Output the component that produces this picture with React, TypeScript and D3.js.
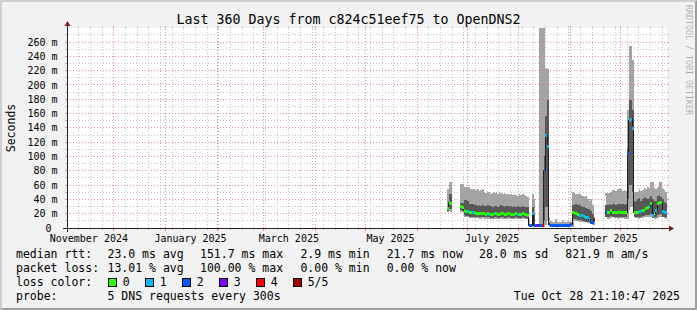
import React from 'react';
import * as d3 from 'd3';

const WIDTH = 697;
const HEIGHT = 310;
const FONT = "'DejaVu Sans Mono', 'Liberation Mono', monospace";

// time span of the graph
const END_TIME = new Date(Date.UTC(2025, 9, 28, 21, 10, 47));
const SPAN_DAYS = 360;
const START_TIME = new Date(END_TIME.getTime() - SPAN_DAYS * 864e5);

const TITLE = 'Last 360 Days from c824c51eef75 to OpenDNS2';
const UNIT_LABEL = 'Seconds';
const WATERMARK = 'RRDTOOL / TOBI OETIKER';

// y axis (milliseconds, labelled with the "m" prefix)
const Y_MAX_MS = 279.6;
const yLabelTicks = [0, 20, 40, 60, 80, 100, 120, 140, 160, 180, 200, 220, 240, 260];
const yMinorTicks = [10, 30, 50, 70, 90, 110, 130, 150, 170, 190, 210, 230, 250, 270];

// one sample per day, starting at day FIRST_DAY after the graph start
const FIRST_DAY = 228;
const N = null;
// top of light smoke (slowest ping)
const smokeMax = [
  55, 65, 65,
  N, N, N, N, N,
  61, 61, 58, 58, 58, 57, 54, 55, 54, 53, 54, 52, 53, 54, 50, 49, 51, 50, 48, 49, 50, 49, 48, 50, 49, 48, 49, 48, 47, 46, 47, 46, 47, 46, 45, 47, 46, 47, 46, 45, 44,
  5, 5, 48, 40, 6, 6, 400, 400, 400, 400, 224, 222, 14, 10, 9, 8, 12, 9, 8, 9, 11, 8, 9, 10, 8, 9,
  50, 49, 48, 47, 49, 46, 45, 44, 45, 41, 38, 40, 32, 16,
  N, N, N, N, N, N,
  49, 49, 49, 50, 53, 53, 52, 55, 55, 54, 52, 53, 52, 165, 254, 254, 235, 49, 50, 51, 54, 52, 53, 56, 55, 58, 56, 65, 64, 56, 55, 57, 65, 64, 54, 53, 50,
];
// top of dark smoke
const smokeHi = [
  30, 47, 47,
  N, N, N, N, N,
  35, 35, 39, 39, 38, 33, 33, 33, 32, 32, 31, 32, 31, 32, 31, 31, 32, 31, 31, 30, 31, 31, 30, 31, 32, 31, 30, 31, 31, 30, 31, 30, 31, 30, 31, 30, 30, 31, 30, 30, 29,
  4, 4, 30, 20, 5, 5, 6, 6, 6, 100, 156, 179, 8, 6, 5, 5, 6, 5, 5, 6, 6, 5, 5, 6, 6, 7,
  32, 32, 33, 32, 33, 31, 30, 29, 28, 27, 26, 24, 20, 14,
  N, N, N, N, N, N,
  32, 32, 33, 32, 33, 33, 32, 33, 34, 33, 33, 32, 33, 110, 179, 179, 165, 36, 38, 40, 42, 38, 40, 44, 42, 40, 42, 45, 40, 38, 38, 45, 46, 44, 40, 37, 35,
];
// median rtt
const medianMs = [
  27, 35, 34,
  N, N, N, N, N,
  30, 28, 24, 23, 23, 22, 22, 21, 21, 20, 20, 20, 20, 20, 20, 19, 20, 19, 19, 19, 20, 20, 19, 19, 20, 20, 19, 19, 20, 20, 19, 19, 19, 20, 19, 19, 19, 20, 19, 19, 18,
  3, 3, 20, 4, 4, 4, 3, 3, 3, 81, 130, 114, 5, 4, 3, 3, 4, 3, 3, 4, 4, 3, 3, 4, 4, 5,
  21, 21, 20, 19, 18, 18, 17, 16, 15, 14, 12, 8, 7, 12,
  N, N, N, N, N, N,
  21, 21, 22, 25, 22, 21, 21, 22, 23, 22, 21, 21, 21, 104, 150, 152, 139, 22, 22, 21, 23, 23, 24, 25, 27, 28, 30, 34, 18, 20, 24, 34, 35, 36, 23, 21, 22,
];
// bottom of dark smoke
const smokeLo = [
  24, 27, 26,
  N, N, N, N, N,
  25, 24, 18, 17, 17, 16, 16, 16, 16, 15, 15, 15, 15, 15, 15, 15, 15, 15, 14, 14, 15, 15, 14, 14, 15, 15, 14, 14, 15, 15, 14, 14, 14, 15, 14, 14, 14, 15, 14, 14, 13,
  2, 2, 8, 3, 3, 3, 2, 2, 2, 10, 30, 30, 3, 3, 2, 2, 3, 2, 2, 3, 3, 2, 2, 3, 3, 3,
  12, 12, 12, 11, 11, 11, 10, 10, 9, 9, 8, 6, 5, 8,
  N, N, N, N, N, N,
  15, 15, 16, 17, 16, 16, 15, 16, 16, 16, 15, 15, 15, 40, 60, 60, 50, 16, 16, 15, 16, 16, 17, 17, 18, 18, 18, 20, 14, 15, 16, 18, 19, 20, 16, 15, 15,
];
// bottom of light smoke (fastest ping)
const smokeMin = [
  22, 24, 23,
  N, N, N, N, N,
  23, 22, 16, 15, 15, 14, 14, 14, 14, 14, 14, 13, 13, 14, 13, 13, 13, 13, 13, 13, 13, 13, 13, 13, 13, 13, 13, 13, 13, 13, 13, 13, 13, 13, 13, 13, 13, 12, 13, 13, 12, 12,
  1, 1, 4, 2, 2, 2, 1, 1, 1, 4, 10, 10, 2, 2, 1, 1, 2, 1, 1, 2, 2, 1, 1, 2, 2, 2,
  10, 10, 10, 9, 9, 9, 8, 8, 7, 7, 6, 4, 3, 5,
  N, N, N, N, N, N,
  13, 13, 14, 15, 14, 14, 13, 14, 14, 14, 13, 13, 13, 25, 30, 30, 25, 14, 14, 13, 14, 14, 15, 15, 15, 15, 15, 16, 12, 13, 14, 15, 16, 16, 14, 13, 13,
];
// lost pings out of 5
const lostPings = [
  0, 0, 0,
  N, N, N, N, N,
  0, 0, 0, 0, 1, 0, 0, 1, 0, 0, 0, 0, 0, 0, 0, 0, 0, 1, 0, 0, 1, 0, 0, 0, 0, 0, 0, 0, 0, 0, 0, 0, 0, 0, 1, 0, 0, 0, 0, 0, 0,
  2, 2, 1, 2, 2, 3, 2, 2, 4, 2, 1, 1, 2, 2, 2, 2, 2, 2, 2, 2, 2, 2, 2, 2, 2, 2,
  0, 0, 0, 0, 1, 1, 1, 0, 1, 1, 1, 2, 2, 4,
  N, N, N, N, N, N,
  2, 0, 0, 0, 0, 0, 0, 0, 0, 0, 0, 0, 0, 2, 1, 1, 1, 0, 0, 0, 1, 1, 0, 0, 0, 0, 1, 0, 1, 0, 1, 0, 0, 0, 1, 1, 1,
];

const lossColors = ['#26ff00', '#00b8ff', '#0059ff', '#7e00ff', '#ff0000', '#a10000'];
const lossLabels = ['0', '1', '2', '3', '4', '5/5'];

const medianRttStats = ['23.0 ms avg', '151.7 ms max', '2.9 ms min', '21.7 ms now', '28.0 ms sd', '821.9 m am/s'];
const packetLossStats = ['13.01 % avg', '100.00 % max', '0.00 % min', '0.00 % now'];
const probeText = '5 DNS requests every 300s';
const timestampText = 'Tue Oct 28 21:10:47 2025';

// layout
const X0 = 67, X1 = 667, Y0 = 228, Y1 = 28;
const statCols = [107.5, 200, 300.4, 386.7, 479, 565.3];
const LEG_X = 16;
const rowY = [258, 272, 286, 300];

type Sample = { day: number; max: number; hi: number; med: number; lo: number; min: number; loss: number };

export default function App() {
  const x = d3.scaleUtc().domain([START_TIME, END_TIME]).range([X0, X1]);
  const y = d3.scaleLinear().domain([0, Y_MAX_MS]).range([Y0, Y1]);
  const dayX = (d: number) => x(new Date(START_TIME.getTime() + d * 864e5));

  const samples: (Sample | null)[] = medianMs.map((m, i) =>
    m == null
      ? null
      : {
          day: FIRST_DAY + i,
          max: smokeMax[i] as number,
          hi: smokeHi[i] as number,
          med: m as number,
          lo: smokeLo[i] as number,
          min: smokeMin[i] as number,
          loss: lostPings[i] as number,
        }
  );
  const runs: Sample[][] = [];
  let cur: Sample[] | null = null;
  for (const s of samples) {
    if (!s) { cur = null; continue; }
    if (!cur) { cur = []; runs.push(cur); }
    cur.push(s);
  }
  const runsExt = runs.map((r) => [...r, { ...r[r.length - 1], day: r[r.length - 1].day + 1 }]);

  const lightArea = d3.area<Sample>().x((d) => dayX(d.day)).y0((d) => y(d.min)).y1((d) => y(d.max)).curve(d3.curveStepAfter);
  const darkArea = d3.area<Sample>().x((d) => dayX(d.day)).y0((d) => y(d.lo)).y1((d) => y(d.hi)).curve(d3.curveStepAfter);
  const medLine = d3.line<Sample>().x((d) => dayX(d.day)).y((d) => y(d.med)).curve(d3.curveStepAfter);

  const px = (v: number) => Math.floor(v) + 0.5;

  const weekLines = d3.utcSunday.range(START_TIME, END_TIME).map((t) => px(x(t)));
  const monthLines = d3.utcMonth.range(START_TIME, END_TIME).map((t) => px(x(t)));
  const labelMonths = d3.utcMonth
    .every(2)!
    .range(d3.utcMonth.every(2)!.floor(START_TIME), END_TIME)
    .map((t) => ({ t, lab: new Date(t.getTime() + 15 * 864e5) }))
    .filter((o) => o.lab >= START_TIME && o.lab <= END_TIME);
  const fmt = d3.utcFormat('%B %Y');

  const minorColor = '#c4c4c4';
  const majorColor = '#e88e8e';
  const dash = '1 2';

  return (
    <svg width={WIDTH} height={HEIGHT} style={{ position: 'absolute', left: 0, top: 0 }} fontFamily={FONT}>
      <defs>
        <clipPath id="plotClip">
          <rect x={X0} y={Y1} width={X1 - X0} height={Y0 - Y1} />
        </clipPath>
      </defs>
      <rect x={0} y={0} width={WIDTH} height={HEIGHT} fill="#f2f2f2" />
      <polygon points={`0,0 ${WIDTH},0 ${WIDTH - 2},2 2,2`} fill="#cfcfcf" />
      <polygon points={`0,0 2,2 2,${HEIGHT - 2} 0,${HEIGHT}`} fill="#cfcfcf" />
      <polygon points={`0,${HEIGHT} 2,${HEIGHT - 2} ${WIDTH - 2},${HEIGHT - 2} ${WIDTH},${HEIGHT}`} fill="#9e9e9e" />
      <polygon points={`${WIDTH},0 ${WIDTH},${HEIGHT} ${WIDTH - 2},${HEIGHT - 2} ${WIDTH - 2},2`} fill="#9e9e9e" />
      <rect x={X0} y={Y1} width={X1 - X0} height={Y0 - Y1} fill="#ffffff" />

      {/* grid */}
      <g shapeRendering="crispEdges">
        {yMinorTicks.filter((v) => v <= Y_MAX_MS).map((v) => {
          const yy = px(y(v));
          return (
            <g key={'hm' + v}>
              <line x1={X0} x2={X1} y1={yy} y2={yy} stroke={minorColor} strokeDasharray={dash} />
              <line x1={X0 - 2} x2={X0} y1={yy} y2={yy} stroke={minorColor} />
              <line x1={X1} x2={X1 + 2} y1={yy} y2={yy} stroke={minorColor} />
            </g>
          );
        })}
        {weekLines.map((xx, i) => (
          <g key={'vm' + i}>
            <line x1={xx} x2={xx} y1={Y0} y2={Y1} stroke={minorColor} strokeDasharray={dash} />
            <line x1={xx} x2={xx} y1={Y1 - 2} y2={Y1} stroke={minorColor} />
            <line x1={xx} x2={xx} y1={Y0} y2={Y0 + 2} stroke={minorColor} />
          </g>
        ))}
        {yLabelTicks.filter((v) => v > 0).map((v) => {
          const yy = px(y(v));
          return (
            <g key={'hM' + v}>
              <line x1={X0} x2={X1} y1={yy} y2={yy} stroke={majorColor} strokeDasharray={dash} />
              <line x1={X0 - 2} x2={X0} y1={yy} y2={yy} stroke={majorColor} />
              <line x1={X1} x2={X1 + 2} y1={yy} y2={yy} stroke={majorColor} />
            </g>
          );
        })}
        {monthLines.map((xx, i) => (
          <g key={'vM' + i}>
            <line x1={xx} x2={xx} y1={Y0} y2={Y1} stroke={majorColor} strokeDasharray={dash} />
            <line x1={xx} x2={xx} y1={Y1 - 2} y2={Y1} stroke={majorColor} />
            <line x1={xx} x2={xx} y1={Y0} y2={Y0 + 3} stroke={majorColor} />
          </g>
        ))}
      </g>

      <g clipPath="url(#plotClip)" shapeRendering="crispEdges">
        {runsExt.map((r, i) => (
          <path key={'l' + i} d={lightArea(r) || ''} fill="#a4a4a4" />
        ))}
        {runsExt.map((r, i) => (
          <path key={'d' + i} d={darkArea(r) || ''} fill="#585858" />
        ))}
        {runsExt.map((r, i) => (
          <path key={'m' + i} d={medLine(r) || ''} fill="none" stroke="#202020" strokeWidth={1} />
        ))}
        {runs.flat().map((s, i) => {
          const x0 = dayX(s.day);
          const x1 = dayX(s.day + 1);
          const cy = y(s.med);
          return <rect key={'c' + i} x={x0} width={x1 - x0} y={cy - 1.5} height={3} fill={lossColors[s.loss]} />;
        })}
      </g>

      {/* axes */}
      <g shapeRendering="crispEdges">
        <line x1={X0 - 4} x2={X1 + 4} y1={Y0 + 0.5} y2={Y0 + 0.5} stroke="#1f1f1f" />
        <line x1={X0 + 0.5} x2={X0 + 0.5} y1={Y0 + 4} y2={Y1 - 4} stroke="#1f1f1f" />
      </g>
      <polygon points={`${X1 + 2},${Y0 - 2.5} ${X1 + 2},${Y0 + 3.5} ${X1 + 7},${Y0 + 0.5}`} fill="#801f1f" />
      <polygon points={`${X0 - 2.5},${Y1 - 2} ${X0 + 3.5},${Y1 - 2} ${X0 + 0.5},${Y1 - 7}`} fill="#801f1f" />

      {/* y labels */}
      <g fontSize={10} fill="#000">
        {yLabelTicks.map((v) => (
          <text key={'yl' + v} x={v === 0 ? 51.5 : 57.5} y={y(v) + 3.6} textAnchor="end">
            {v === 0 ? '0' : `${v} m`}
          </text>
        ))}
      </g>
      {/* x labels */}
      <g fontSize={10} fill="#000">
        {labelMonths.map((o, i) => (
          <text key={'xl' + i} x={x(o.lab)} y={241.5} textAnchor="middle">
            {fmt(o.t)}
          </text>
        ))}
      </g>

      {/* title and unit */}
      <text x={WIDTH / 2} y={24} textAnchor="middle" fontSize={13.3} fill="#000">{TITLE}</text>
      <text transform={`translate(14.5,${(Y0 + Y1) / 2}) rotate(-90)`} textAnchor="middle" fontSize={11.5} fill="#000">{UNIT_LABEL}</text>
      <text transform={`translate(685.5,5) rotate(90)`} textAnchor="start" fontSize={8.3} fill="rgba(0,0,0,0.3)">{WATERMARK}</text>

      {/* legend */}
      <g fontSize={11.5} fill="#000">
        <text x={LEG_X} y={rowY[0]}>median rtt:</text>
        {medianRttStats.map((s, i) => (
          <text key={'mr' + i} x={statCols[i]} y={rowY[0]}>{s}</text>
        ))}
        <text x={LEG_X} y={rowY[1]}>packet loss:</text>
        {packetLossStats.map((s, i) => (
          <text key={'pl' + i} x={statCols[i]} y={rowY[1]}>{s}</text>
        ))}
        <text x={LEG_X} y={rowY[2]}>loss color:</text>
        {lossLabels.map((l, i) => (
          <g key={'lc' + i}>
            <rect x={108.5 + i * 37} y={278.5} width={8} height={8} fill={lossColors[i]} stroke="#000" strokeWidth={1} shapeRendering="crispEdges" />
            <text x={122.7 + i * 37} y={rowY[2]}>{l}</text>
          </g>
        ))}
        <text x={LEG_X} y={rowY[3]}>probe:</text>
        <text x={statCols[0]} y={rowY[3]}>{probeText}</text>
        <text x={680} y={rowY[3]} textAnchor="end">{timestampText}</text>
      </g>
    </svg>
  );
}
